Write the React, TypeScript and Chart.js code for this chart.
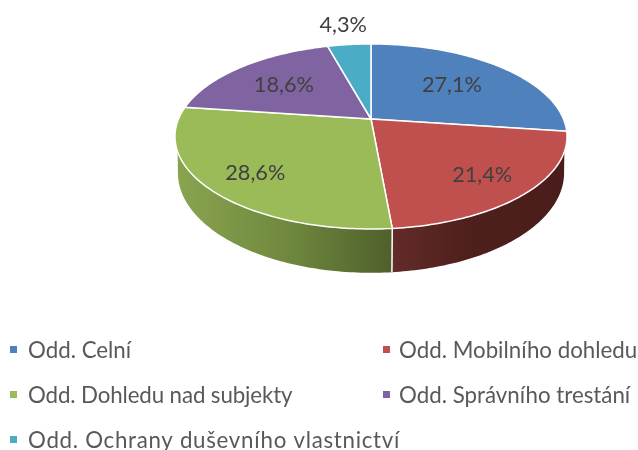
import React, { useEffect, useRef } from "react";
import { Chart, registerables } from "chart.js";

Chart.register(...registerables);

const categories = [
  "Odd. Celní",
  "Odd. Mobilního dohledu",
  "Odd. Dohledu nad subjekty",
  "Odd. Správního trestání",
  "Odd. Ochrany duševního vlastnictví",
];
const values = [19, 15, 20, 13, 3];
const colors = ["#4F81BD", "#C0504D", "#9BBB59", "#8064A2", "#4BACC6"];

// layout of the tilted pie
const CX = 371, CY = 119, A = 192.5, B = 89.2, K = 0.189;
const BASE_SX = 0.985, BASE_SY = 1.08, BASE_DROP = 35;
const DEG = Math.PI / 180;
const TOP_LIMIT = 20 * DEG, BASE_LIMIT = 11 * DEG;
const LABEL_RADIUS = [0.6, 0.75, 0.75, 0.65, 1.35];
const LABEL_NUDGE = [-1, 2, 2.5, 1.5, 1];
const LEGEND_SPACING = [0, 0, -0.12, 0, 0.7];
const FONT = "Lato, Carlito, sans-serif";

const proj = (th: number, r = 1) => {
  const u = r * Math.cos(th), v = r * Math.sin(th), d = 1 - K * v;
  return { x: CX + (A * u) / d, y: CY + (B * v) / d };
};
const base = (th: number) => {
  const p = proj(th);
  return { x: CX + (p.x - CX) * BASE_SX, y: CY + (p.y - CY) * BASE_SY + BASE_DROP };
};
const steps = (a: number, b: number) => {
  const n = Math.max(2, Math.ceil(Math.abs(b - a) * 60));
  return Array.from({ length: n + 1 }, (_, i) => a + ((b - a) * i) / n);
};

const sideStops: Record<number, [number, string][]> = {
  1: [[0, "#632b29"], [0.45, "#4e1f1d"], [1, "#4a1d1b"]],
  2: [[0, "#89a44f"], [0.5, "#70893f"], [1, "#4f602b"]],
};

const piePlugin = {
  id: "tiltedPie",
  beforeDatasetsDraw(chart: any) {
    const ctx: CanvasRenderingContext2D = chart.ctx;
    const arcs = chart.getDatasetMeta(0).data;
    ctx.save();
    ctx.lineJoin = "round";
    // wall
    arcs.forEach((arc: any, i: number) => {
      const ta = Math.max(arc.startAngle, TOP_LIMIT), tb = Math.min(arc.endAngle, Math.PI - TOP_LIMIT);
      const ba = Math.max(arc.startAngle, BASE_LIMIT), bb = Math.min(arc.endAngle, Math.PI - BASE_LIMIT);
      if (bb <= ba || tb <= ta) return;
      ctx.beginPath();
      steps(ta, tb).forEach((t, j) => { const p = proj(t); j ? ctx.lineTo(p.x, p.y) : ctx.moveTo(p.x, p.y); });
      const low = steps(bb, ba);
      low.forEach((t) => { const p = base(t); ctx.lineTo(p.x, p.y); });
      ctx.closePath();
      const xs = low.map((t) => base(t).x);
      const g = ctx.createLinearGradient(Math.min(...xs), 0, Math.max(...xs), 0);
      (sideStops[i] || [[0, colors[i]], [1, colors[i]]]).forEach(([o, c]: any) => g.addColorStop(o, c));
      ctx.fillStyle = g;
      ctx.fill();
    });
    // seam between the walls
    arcs.forEach((arc: any) => {
      const t = arc.endAngle;
      if (t > 0.3 && t < Math.PI - 0.3) {
        const p = proj(t), q = base(t);
        ctx.beginPath();
        ctx.moveTo(p.x, p.y);
        ctx.lineTo(q.x, q.y);
        ctx.strokeStyle = "#ffffff";
        ctx.lineWidth = 1.5;
        ctx.stroke();
      }
    });
    // top face
    arcs.forEach((arc: any, i: number) => {
      ctx.beginPath();
      ctx.moveTo(CX, CY);
      steps(arc.startAngle, arc.endAngle).forEach((t) => { const p = proj(t); ctx.lineTo(p.x, p.y); });
      ctx.closePath();
      ctx.fillStyle = colors[i];
      ctx.fill();
      ctx.strokeStyle = "#ffffff";
      ctx.lineWidth = 1.5;
      ctx.stroke();
    });
    ctx.restore();
    return false;
  },
  afterDraw(chart: any) {
    const ctx: CanvasRenderingContext2D = chart.ctx;
    const arcs = chart.getDatasetMeta(0).data;
    const total = values.reduce((s, v) => s + v, 0);
    ctx.save();
    ctx.fillStyle = "#404040";
    ctx.font = `21.7px ${FONT}`;
    ctx.textAlign = "center";
    ctx.textBaseline = "middle";
    arcs.forEach((arc: any, i: number) => {
      const p = proj((arc.startAngle + arc.endAngle) / 2, LABEL_RADIUS[i]);
      ctx.fillText(((values[i] / total) * 100).toFixed(1).replace(".", ",") + "%", p.x, p.y + LABEL_NUDGE[i]);
    });
    // legend
    ctx.textAlign = "left";
    ctx.font = `22.3px ${FONT}`;
    categories.forEach((label, i) => {
      const x = i % 2 ? 383 : 10;
      const y = 350 + 45 * Math.floor(i / 2);
      ctx.fillStyle = colors[i];
      ctx.fillRect(x, y - 4, 7, 7);
      ctx.fillStyle = "#595959";
      (ctx as any).letterSpacing = `${LEGEND_SPACING[i]}px`;
      ctx.fillText(label, x + (i % 2 ? 16 : 18), y + 1);
    });
    ctx.restore();
  },
};

export default function App() {
  const ref = useRef<HTMLCanvasElement>(null);
  useEffect(() => {
    const chart = new Chart(ref.current!, {
      type: "pie",
      data: { labels: categories, datasets: [{ data: values, backgroundColor: colors }] },
      options: {
        responsive: false,
        animation: false,
        plugins: { legend: { display: false }, tooltip: { enabled: false } },
      },
      plugins: [piePlugin],
    } as any);
    return () => chart.destroy();
  }, []);
  return (
    <div style={{ position: "absolute", left: 0, top: 0, width: 638, height: 450, overflow: "hidden", background: "#fff" }}>
      <canvas ref={ref} width={638} height={450} style={{ display: "block" }} />
    </div>
  );
}
